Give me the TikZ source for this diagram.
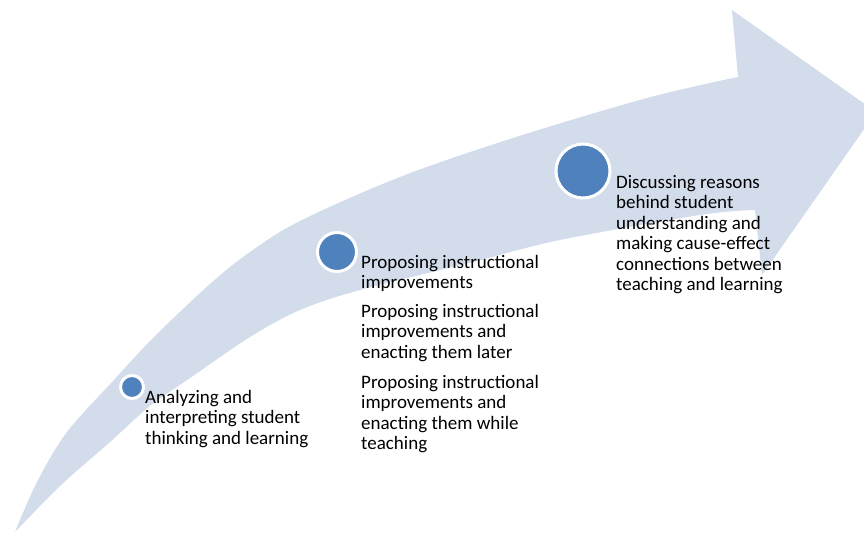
\documentclass[tikz,border=0pt]{standalone}
\usepackage{fontspec}
\setmainfont{Carlito}
\definecolor{arrowfill}{HTML}{D2DCEA}
\definecolor{dotblue}{HTML}{4F81BD}
\begin{document}
\begin{tikzpicture}[x=1pt,y=-1pt,
  dot/.style={circle,fill=dotblue,draw=white,line width=3pt,inner sep=0pt},
  label/.style={anchor=north west,inner sep=0pt,align=left,text=black,
    font=\fontsize{19}{20.5}\selectfont}]
\useasboundingbox (0,0) rectangle (864,533);
\clip (0,0) rectangle (864,533);
% big curved arrow
\fill[arrowfill]
  plot[smooth,tension=0.55] coordinates {(15,532) (37,482) (67,432) (113,381) (153,338) (210,284) (250,252) (300,221) (400,177) (513,138) (647,98) (738,77)}
  -- (732,10) -- (876,112) -- (762,275) -- (755,210)
  -- plot[smooth,tension=0.55] coordinates {(755,210) (700,215) (560,240) (473,262) (360,290) (300,310) (250,337) (193,376) (150,406) (110,442) (60,486) (15,532)}
  -- cycle;
% milestones
\node[dot,minimum size=23pt] (c1) at (132,387) {};
\node[dot,minimum size=39pt] (c2) at (337,252) {};
\node[dot,minimum size=54pt] (c3) at (583,171) {};
% texts (north = first baseline - 14.35)
\node[label] (t1) at (145,388.65) {\strut Analyzing and\\interpreting student\\thinking and learning};
\node[label] (t2a) at (361,253.65) {\strut Proposing instructional\\improvements};
\node[label] (t2b) at (361,302.65) {\strut Proposing instructional\\improvements and\\enacting them later};
\node[label] (t2c) at (361,373.65) {\strut Proposing instructional\\improvements and\\enacting them while\\teaching};
\node[label] (t3) at (616,173.65) {\strut Discussing reasons\\behind student\\understanding and\\making cause-effect\\connections between\\teaching and learning};
\end{tikzpicture}
\end{document}
